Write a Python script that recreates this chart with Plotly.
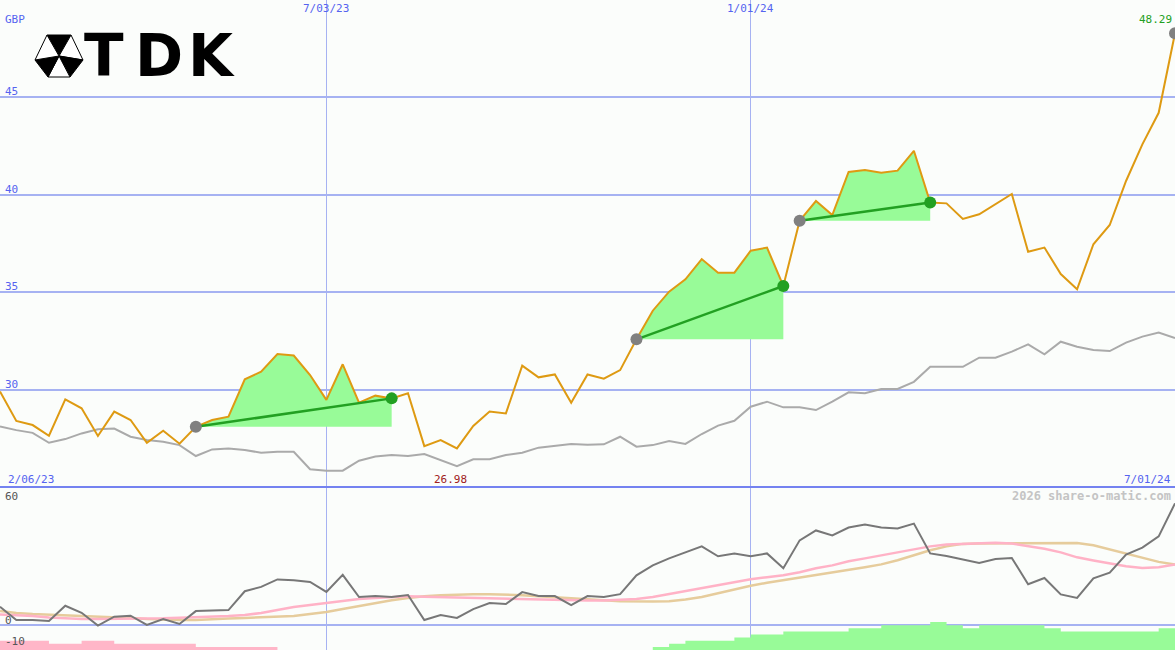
import plotly.graph_objects as go
import pandas as pd

# ---------------- data ----------------
start_date = "2023-02-13"
n_weeks = 73
price = [29.90, 28.39, 28.18, 27.63, 29.50, 29.04, 27.62, 28.87, 28.44, 27.27,
         27.89, 27.22, 28.09, 28.44, 28.61, 30.53, 30.92, 31.83, 31.75, 30.75,
         29.47, 31.30, 29.33, 29.69, 29.55, 29.81, 27.10, 27.41, 26.98, 28.13,
         28.87, 28.78, 31.23, 30.63, 30.78, 29.33, 30.78, 30.56, 31.00, 32.58,
         34.05, 35.03, 35.66, 36.70, 36.00, 36.00, 37.13, 37.29, 35.32, 38.67,
         39.68, 38.96, 41.17, 41.27, 41.13, 41.24, 42.26, 39.60, 39.56, 38.76,
         39.00, 39.51, 40.04, 37.08, 37.29, 35.93, 35.15, 37.46, 38.45, 40.71,
         42.59, 44.21, 48.29]
index_line = [28.11, 27.92, 27.78, 27.27, 27.46, 27.75, 27.96, 28.00, 27.58, 27.41,
              27.32, 27.15, 26.59, 26.93, 26.98, 26.90, 26.76, 26.81, 26.81, 25.91,
              25.84, 25.84, 26.35, 26.56, 26.64, 26.59, 26.69, 26.38, 26.07, 26.42,
              26.42, 26.64, 26.76, 27.02, 27.10, 27.21, 27.17, 27.19, 27.58, 27.07,
              27.15, 27.36, 27.21, 27.72, 28.15, 28.40, 29.12, 29.38, 29.09, 29.09,
              28.95, 29.38, 29.86, 29.81, 30.03, 30.03, 30.40, 31.17, 31.17, 31.17,
              31.64, 31.64, 31.95, 32.32, 31.81, 32.46, 32.20, 32.03, 31.98, 32.41,
              32.72, 32.93, 32.64]
osc = [8.8, 2.4, 2.4, 1.9, 9.3, 5.9, -0.3, 4.0, 4.5, 0.0,
       2.9, 0.5, 6.7, 6.9, 7.2, 16.3, 18.4, 22.0, 21.6, 20.8,
       16.0, 24.2, 13.5, 14.0, 13.5, 14.5, 2.4, 4.8, 3.4, 7.7,
       10.6, 10.1, 15.9, 14.0, 14.0, 9.6, 14.0, 13.5, 14.9, 24.0,
       28.8, 32.2, 35.1, 38.0, 33.2, 34.6, 33.2, 34.6, 27.4, 40.9,
       45.7, 43.3, 47.1, 48.6, 47.1, 46.6, 49.0, 34.6, 33.3, 31.6,
       30.0, 31.9, 32.4, 19.7, 22.7, 14.8, 13.1, 22.5, 25.3, 34.0,
       37.4, 42.8, 58.8]
osc_fast = [5.1, 4.8, 4.3, 3.6, 3.1, 2.9, 2.9, 2.9, 2.9, 2.9,
            3.2, 3.5, 3.8, 3.8, 4.3, 4.8, 5.8, 7.2, 8.7, 9.6,
            10.6, 11.5, 12.5, 13.0, 13.5, 13.9, 13.7, 13.5, 13.2, 13.0,
            13.0, 12.7, 12.7, 12.5, 12.3, 12.0, 11.8, 11.8, 12.0, 12.5,
            13.5, 14.9, 16.3, 17.8, 19.2, 20.7, 22.1, 23.1, 24.0, 25.5,
            27.4, 28.8, 30.8, 32.2, 33.7, 35.1, 36.5, 38.0, 38.9, 39.2,
            39.4, 39.7, 39.4, 38.2, 36.8, 35.1, 32.7, 31.2, 29.8, 28.4,
            27.6, 27.9, 29.2]
osc_slow = [6.7, 5.8, 5.3, 5.0, 4.8, 4.6, 4.3, 3.8, 3.4, 2.9,
            2.6, 2.4, 2.4, 2.6, 3.1, 3.4, 3.8, 4.1, 4.3, 5.3,
            6.3, 7.7, 9.1, 10.6, 12.0, 13.0, 13.9, 14.4, 14.7, 14.9,
            14.9, 14.7, 14.4, 13.9, 13.5, 13.0, 12.5, 12.0, 11.5, 11.3,
            11.3, 11.5, 12.3, 13.5, 15.4, 17.3, 19.0, 20.4, 21.6, 22.8,
            24.0, 25.2, 26.4, 27.9, 29.3, 31.3, 33.7, 36.1, 38.0, 39.2,
            39.4, 39.4, 39.4, 39.4, 39.4, 39.6, 39.6, 38.5, 36.5, 34.6,
            32.5, 30.5, 29.2]
trend = [-3, -3, -3, -2, -2, -3, -3, -2, -2, -2,
         -2, -2, -1, -1, -1, -1, -1, 0, 0, 0,
         0, 0, 0, 0, 0, 0, 0, 0, 0, 0,
         0, 0, 0, 0, 0, 0, 0, 0, 0, 0,
         1, 2, 3, 3, 3, 4, 5, 5, 6, 6,
         6, 6, 7, 7, 8, 8, 8, 9, 8, 7,
         8, 8, 8, 8, 7, 6, 6, 6, 6, 6,
         6, 7, 7]
trades = [(12, 24), (39, 48), (49, 57)]
price_ticks = [30, 35, 40, 45]
date_ticks = ["2023-07-03", "2024-01-01"]
date_tick_text = ["7/03/23", "1/01/24"]
osc_ticks = [60, 0, -10]
range_start_text = "2/06/23"
range_end_text = "7/01/24"
currency = "GBP"

dates = pd.date_range(start_date, periods=n_weeks, freq="7D")

# ---------------- style ----------------
W, H = 1175, 650
SPLIT = 1 - 487 / H
BG = "#fbfdfb"
BLUE_TXT = "#5563f0"
GRID = "#a6b2f2"
ORANGE = "#de9a12"
GREEN = "#22a022"
FILL = "#98fb98"
MONO = "DejaVu Sans Mono"


def px(x):
    return x / W


def py(y):
    return 1 - y / H


fig = go.Figure()

# trade fills
for a, b in trades:
    xs = list(dates[a:b + 1]) + [dates[b], dates[a]]
    ys = price[a:b + 1] + [price[a], price[a]]
    fig.add_trace(go.Scatter(x=xs, y=ys, fill="toself", fillcolor=FILL,
                             line=dict(width=0), mode="lines", hoverinfo="skip",
                             xaxis="x", yaxis="y"))

# comparison line
fig.add_trace(go.Scatter(x=dates, y=index_line, mode="lines",
                         line=dict(color="#aaaaaa", width=2), xaxis="x", yaxis="y"))
# price
fig.add_trace(go.Scatter(x=dates, y=price, mode="lines",
                         line=dict(color=ORANGE, width=2), xaxis="x", yaxis="y"))
# trade lines & markers
for a, b in trades:
    fig.add_trace(go.Scatter(x=[dates[a], dates[b]], y=[price[a], price[b]], mode="lines",
                             line=dict(color=GREEN, width=2.5), xaxis="x", yaxis="y"))
fig.add_trace(go.Scatter(x=[dates[a] for a, _ in trades] + [dates[-1]],
                         y=[price[a] for a, _ in trades] + [price[-1]], mode="markers",
                         marker=dict(color="#808080", size=12), xaxis="x", yaxis="y"))
fig.add_trace(go.Scatter(x=[dates[b] for _, b in trades], y=[price[b] for _, b in trades],
                         mode="markers", marker=dict(color=GREEN, size=12), xaxis="x", yaxis="y"))

# lower panel bars
fig.add_trace(go.Scatter(x=dates, y=[-t if t < 0 else 0 for t in trend], mode="lines",
                         line=dict(width=0, shape="hv"), fill="tozeroy", fillcolor="#ffb6c8",
                         xaxis="x2", yaxis="y3"))
fig.add_trace(go.Scatter(x=dates, y=[t if t > 0 else 0 for t in trend], mode="lines",
                         line=dict(width=0, shape="hv"), fill="tozeroy", fillcolor=FILL,
                         xaxis="x2", yaxis="y3"))
# lower lines
fig.add_trace(go.Scatter(x=dates, y=osc_slow, mode="lines",
                         line=dict(color="#e6cc9c", width=2.5), xaxis="x2", yaxis="y2"))
fig.add_trace(go.Scatter(x=dates, y=osc_fast, mode="lines",
                         line=dict(color="#ffb2c6", width=2.5), xaxis="x2", yaxis="y2"))
fig.add_trace(go.Scatter(x=dates, y=osc, mode="lines",
                         line=dict(color="#777777", width=2), xaxis="x2", yaxis="y2"))

axis_common = dict(showticklabels=False, ticks="", zeroline=False, showline=False)
fig.update_layout(
    width=W, height=H, margin=dict(l=0, r=0, t=0, b=0),
    paper_bgcolor=BG, plot_bgcolor=BG, showlegend=False, hovermode=False,
    xaxis=dict(domain=[0, 1], range=[dates[0], dates[-1]], tickvals=date_ticks,
               showgrid=True, gridcolor=GRID, gridwidth=1.5, anchor="y", **axis_common),
    xaxis2=dict(domain=[0, 1], range=[dates[0], dates[-1]], tickvals=date_ticks,
                showgrid=True, gridcolor=GRID, gridwidth=1.5, anchor="y2", matches="x",
                **axis_common),
    yaxis=dict(domain=[SPLIT, 1], range=[25, 50], tickvals=price_ticks, showgrid=True,
               gridcolor=GRID, gridwidth=2, **axis_common),
    yaxis2=dict(domain=[0, SPLIT], range=[-12.1, 66.7], tickvals=[0], showgrid=True,
                gridcolor=GRID, gridwidth=2, **axis_common),
    yaxis3=dict(overlaying="y2", range=[0, 52.6], visible=False),
)

# separator
fig.add_shape(type="line", xref="paper", yref="paper", x0=0, x1=1, y0=SPLIT, y1=SPLIT,
              line=dict(color="#7482f0", width=2))

ann = []
f_blue = dict(family=MONO, size=11, color=BLUE_TXT)
for v in price_ticks:
    ann.append(dict(x=0, xref="paper", y=v, yref="y", text=str(v), xanchor="left",
                    yanchor="bottom", xshift=3, yshift=-3, showarrow=False, font=f_blue))
ann.append(dict(x=0, xref="paper", y=py(19), yref="paper", text=currency, xanchor="left",
                yanchor="middle", xshift=3, showarrow=False, font=f_blue))
for d, t in zip(date_ticks, date_tick_text):
    ann.append(dict(x=d, xref="x", y=1, yref="paper", text=t, xanchor="center",
                    yanchor="top", yshift=0, showarrow=False, font=f_blue))
ann.append(dict(x=0, xref="paper", y=SPLIT, yref="paper", text=range_start_text,
                xanchor="left", yanchor="bottom", xshift=6, yshift=-1, showarrow=False,
                font=f_blue))
ann.append(dict(x=1, xref="paper", y=SPLIT, yref="paper", text=range_end_text,
                xanchor="right", yanchor="bottom", xshift=-2, yshift=-1, showarrow=False,
                font=f_blue))
ann.append(dict(x=dates[-1], xref="x", y=price[-1], yref="y", text=f"{price[-1]:.2f}",
                xanchor="right", yanchor="bottom", yshift=5, xshift=-1, showarrow=False,
                font=dict(family=MONO, size=11, color=GREEN)))
imin = min(range(n_weeks), key=lambda i: price[i])
ann.append(dict(x=dates[imin], xref="x", y=SPLIT, yref="paper", text=f"{price[imin]:.2f}",
                xanchor="right", yanchor="bottom", xshift=12, yshift=-1, showarrow=False,
                font=dict(family=MONO, size=11, color="#a02020")))
for v in osc_ticks:
    ann.append(dict(x=0, xref="paper", y=v, yref="y2", text=str(v), xanchor="left",
                    yanchor="bottom", xshift=3, yshift=-4, showarrow=False,
                    font=dict(family=MONO, size=11, color="#555555")))
ann.append(dict(x=1, xref="paper", y=py(496), yref="paper", text="2026 share-o-matic.com",
                xanchor="right", yanchor="middle", xshift=-2, showarrow=False,
                font=dict(family=MONO, size=12, color="#c4c4c4", weight="bold")))

# TDK logo text
for ch, cx in zip("TDK", [104, 159, 211]):
    ann.append(dict(x=px(cx), xref="paper", y=py(56), yref="paper", text=f"<b>{ch}</b>",
                    xanchor="center", yanchor="middle", showarrow=False,
                    font=dict(family="DejaVu Sans", size=58, color="#000000")))
fig.update_layout(annotations=ann)

# logo emblem: hexagon of alternating black / white facets
C = (59, 56)
hexv = [(47, 35), (71, 35), (83, 60), (70, 77), (48, 77), (35, 60)]
for k in range(6):
    p1, p2 = hexv[k], hexv[(k + 1) % 6]
    col = "#000000" if k % 2 == 0 else "#ffffff"
    path = f"M {px(C[0])},{py(C[1])} L {px(p1[0])},{py(p1[1])} L {px(p2[0])},{py(p2[1])} Z"
    fig.add_shape(type="path", xref="paper", yref="paper", path=path,
                  fillcolor=col, line=dict(color="#000000", width=1))

fig.write_html("out.html", post_script="document.body.style.margin='0px';",
               config={"displayModeBar": False, "staticPlot": True})
